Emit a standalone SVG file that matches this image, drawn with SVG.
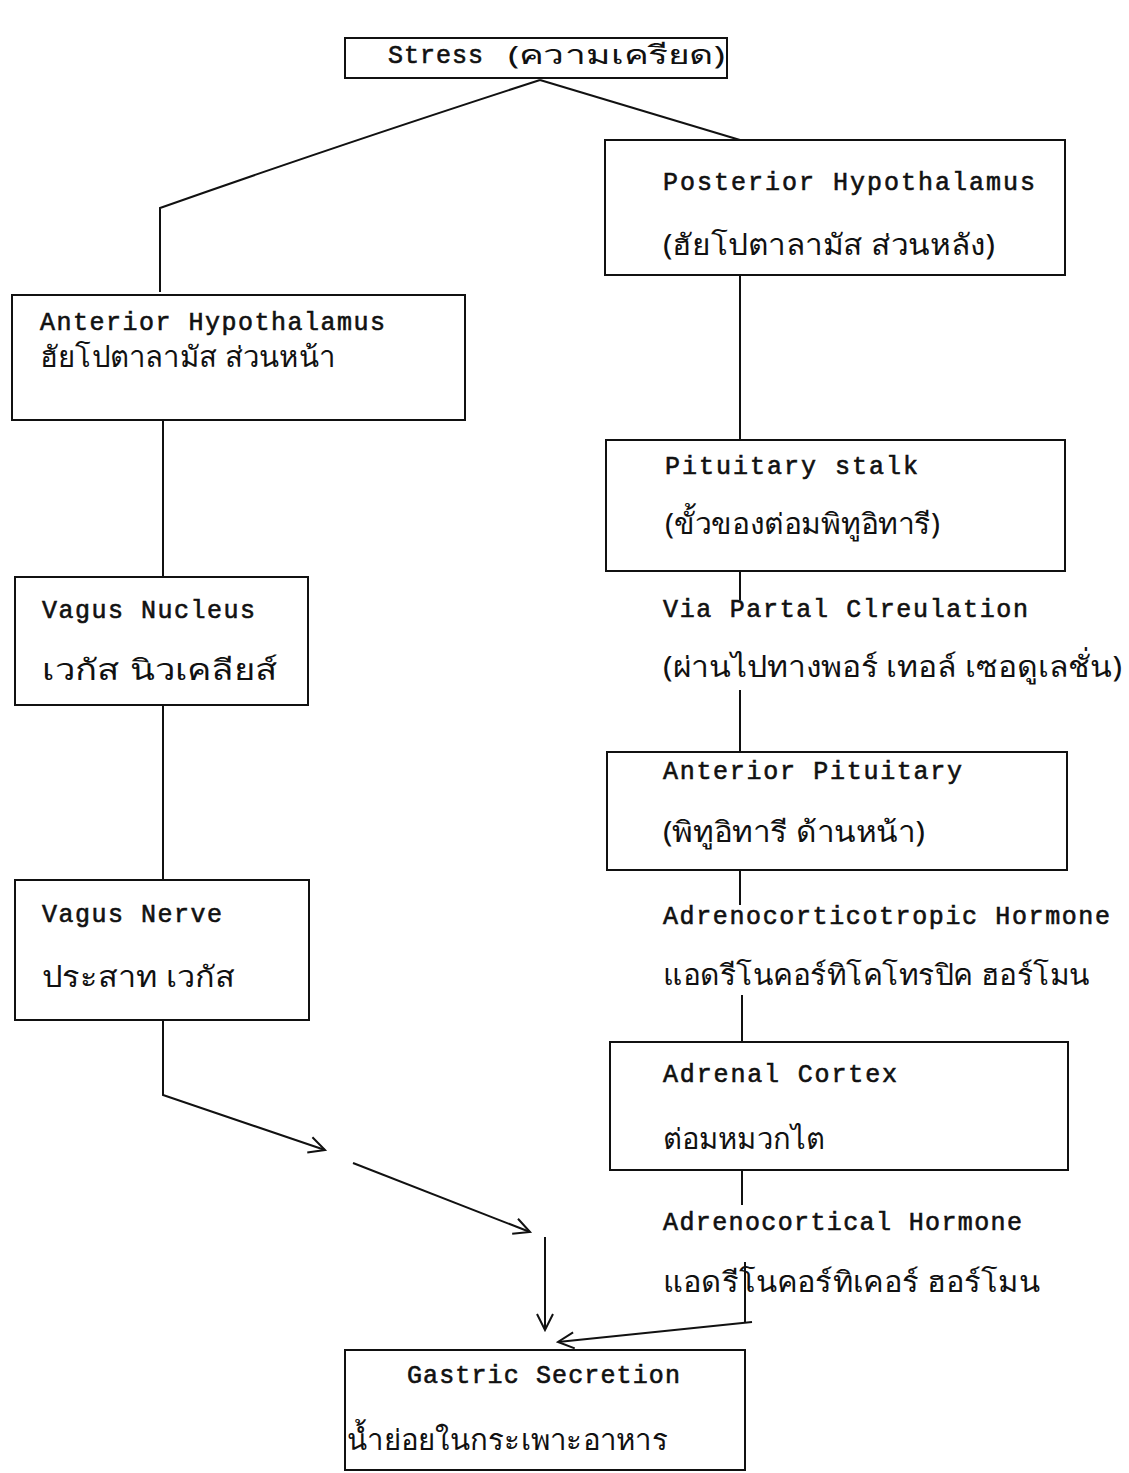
<svg xmlns="http://www.w3.org/2000/svg" width="1129" height="1473" viewBox="0 0 1129 1473">
<style>
.box{fill:none;stroke:#111;stroke-width:2}
.ln{fill:none;stroke:#111;stroke-width:2}
.en{font-family:"Liberation Mono",monospace;font-size:25px;fill:#111;stroke:#111;stroke-width:0.6}
.th{font-family:"Noto Sans","DejaVu Sans",sans-serif;font-size:29px;fill:#111}
</style>
<defs>
<marker id="ah2" viewBox="0 0 20 20" refX="18" refY="10" markerWidth="20" markerHeight="20" markerUnits="userSpaceOnUse" orient="auto">
<path d="M2,2 L18,10 L2,18" fill="none" stroke="#111" stroke-width="2"/>
</marker>
</defs>
<rect width="1129" height="1473" fill="#fff"/>
<g id="connectors">
<path class="ln" d="M540,80 Q330,148 160,208 L160,292" stroke-width="3"/>
<path class="ln" d="M540,80 L740,140"/>
<path class="ln" d="M740,275 L740,440"/>
<path class="ln" d="M163,420 L163,577"/>
<path class="ln" d="M163,705 L163,880"/>
<path class="ln" d="M740,571 L740,600"/>
<path class="ln" d="M740,690 L740,752"/>
<path class="ln" d="M740,870 L740,905"/>
<path class="ln" d="M742,995 L742,1042"/>
<path class="ln" d="M742,1170 L742,1205"/>
<path class="ln" d="M745,1262 L745,1322"/>
<path class="ln" d="M163,1020 L163,1095 L325,1150" marker-end="url(#ah2)"/>
<path class="ln" d="M353,1163 L530,1232" marker-end="url(#ah2)"/>
<path class="ln" d="M545,1237 L545,1330" marker-end="url(#ah2)"/>
<path class="ln" d="M752,1322 L558,1342" stroke-width="3" marker-end="url(#ah2)"/>
</g>
<g id="stress">
<rect class="box" x="345" y="38" width="382" height="40"/>
<text class="en" x="388" y="63" textLength="95" lengthAdjust="spacing">Stress</text>
<text class="th" x="508" y="64" textLength="217" lengthAdjust="spacingAndGlyphs" style="font-size:26px">(ความเครียด)</text>
</g>
<g id="posterior-hypothalamus">
<rect class="box" x="605" y="140" width="460" height="135"/>
<text class="en" x="663" y="190" textLength="372" lengthAdjust="spacing">Posterior Hypothalamus</text>
<text class="th" x="663" y="255" textLength="332" lengthAdjust="spacingAndGlyphs">(ฮัยโปตาลามัส ส่วนหลัง)</text>
</g>
<g id="anterior-hypothalamus">
<rect class="box" x="12" y="295" width="453" height="125"/>
<text class="en" x="40" y="330" textLength="345" lengthAdjust="spacing">Anterior Hypothalamus</text>
<text class="th" x="40" y="367" textLength="295" lengthAdjust="spacingAndGlyphs">ฮัยโปตาลามัส ส่วนหน้า</text>
</g>
<g id="vagus-nucleus">
<rect class="box" x="15" y="577" width="293" height="128"/>
<text class="en" x="42" y="618" textLength="213" lengthAdjust="spacing">Vagus Nucleus</text>
<text class="th" x="42" y="680" textLength="236" lengthAdjust="spacingAndGlyphs">เวกัส นิวเคลียส์</text>
</g>
<g id="vagus-nerve">
<rect class="box" x="15" y="880" width="294" height="140"/>
<text class="en" x="42" y="922" textLength="180" lengthAdjust="spacing">Vagus Nerve</text>
<text class="th" x="42" y="987" textLength="193" lengthAdjust="spacingAndGlyphs">ประสาท เวกัส</text>
</g>
<g id="pituitary-stalk">
<rect class="box" x="606" y="440" width="459" height="131"/>
<text class="en" x="665" y="474" textLength="253" lengthAdjust="spacing">Pituitary stalk</text>
<text class="th" x="665" y="534" textLength="275" lengthAdjust="spacingAndGlyphs">(ขั้วของต่อมพิทูอิทารี)</text>
</g>
<g id="portal-circulation">
<text class="en" x="663" y="617" textLength="365" lengthAdjust="spacing">Via Partal Clreulation</text>
<text class="th" x="663" y="677" textLength="459" lengthAdjust="spacingAndGlyphs">(ผ่านไปทางพอร์ เทอล์ เซอดูเลชั่น)</text>
</g>
<g id="anterior-pituitary">
<rect class="box" x="607" y="752" width="460" height="118"/>
<text class="en" x="663" y="779" textLength="299" lengthAdjust="spacing">Anterior Pituitary</text>
<text class="th" x="663" y="842" textLength="262" lengthAdjust="spacingAndGlyphs">(พิทูอิทารี ด้านหน้า)</text>
</g>
<g id="acth">
<text class="en" x="663" y="924" textLength="447" lengthAdjust="spacing">Adrenocorticotropic Hormone</text>
<text class="th" x="663" y="985" textLength="427" lengthAdjust="spacingAndGlyphs">แอดรีโนคอร์ทิโคโทรปิค ฮอร์โมน</text>
</g>
<g id="adrenal-cortex">
<rect class="box" x="610" y="1042" width="458" height="128"/>
<text class="en" x="663" y="1082" textLength="234" lengthAdjust="spacing">Adrenal Cortex</text>
<text class="th" x="663" y="1149" textLength="162" lengthAdjust="spacingAndGlyphs">ต่อมหมวกไต</text>
</g>
<g id="adrenocortical-hormone">
<text class="en" x="663" y="1230" textLength="359" lengthAdjust="spacing">Adrenocortical Hormone</text>
<text class="th" x="663" y="1292" textLength="377" lengthAdjust="spacingAndGlyphs">แอดรีโนคอร์ทิเคอร์ ฮอร์โมน</text>
</g>
<g id="gastric-secretion">
<rect class="box" x="345" y="1350" width="400" height="120"/>
<text class="en" x="407" y="1383" textLength="273" lengthAdjust="spacing">Gastric Secretion</text>
<text class="th" x="347" y="1450" textLength="321" lengthAdjust="spacingAndGlyphs">น้ำย่อยในกระเพาะอาหาร</text>
</g>
</svg>
